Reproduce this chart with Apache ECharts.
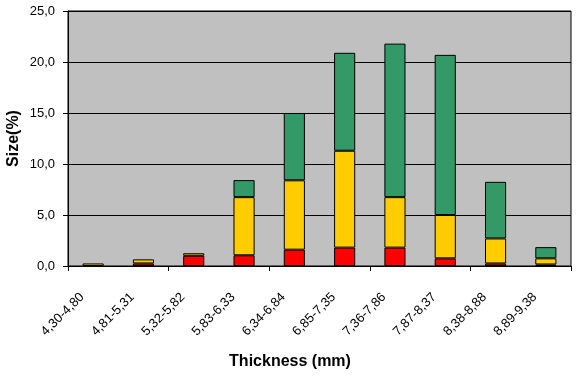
<!DOCTYPE html>
<html>
<head>
<meta charset="utf-8">
<script src="https://cdn.jsdelivr.net/npm/echarts@6/dist/echarts.min.js"></script>
<style>html,body{margin:0;padding:0;background:#fff;}#c{width:579px;height:381px;}</style>
</head>
<body>
<div id="c"></div>
<script>
const categories = ['4,30-4,80','4,81-5,31','5,32-5,82','5,83-6,33','6,34-6,84','6,85-7,35','7,36-7,86','7,87-8,37','8,38-8,88','8,89-9,38'];
const redValues    = [0.0, 0.25, 1.0, 1.05, 1.6, 1.8, 1.8, 0.75, 0.25, 0.15];
const yellowValues = [0.25, 0.4, 0.25, 5.7, 6.8, 9.5, 4.95, 4.25, 2.45, 0.6];
const greenValues  = [0.0, 0.0, 0.0, 1.67, 6.6, 9.6, 15.05, 15.7, 5.55, 1.1];
const yTicks = [0, 5, 10, 15, 20, 25];

const chart = echarts.init(document.getElementById('c'), null, {renderer: 'canvas'});
const font = '"Liberation Sans", Arial, sans-serif';
function mk(name, data, color) {
  return {
    name, type: 'bar', stack: 'total',
    xAxisIndex: 0, yAxisIndex: 0,
    data: data.map(v => v === 0 ? '-' : v),
    barWidth: '42%',
    itemStyle: {color, borderColor: '#000', borderWidth: 1},
    emphasis: {disabled: true}
  };
}
chart.setOption({
  animation: false,
  backgroundColor: '#fff',
  grid: [
    {left: 68, right: 8, top: 11, bottom: 115, containLabel: false, outerBoundsMode: 'none',
      show: true, backgroundColor: '#C0C0C0', borderColor: '#000', borderWidth: 1},
    // label-only grid, shifted left so the rotated category labels end left of each category centre
    {left: 57, right: 19, top: 11, bottom: 115, containLabel: false, outerBoundsMode: 'none', show: false}
  ],
  xAxis: [{
    type: 'category', data: categories, gridIndex: 0,
    name: 'Thickness (mm)', nameLocation: 'middle', nameGap: 88, nameMoveOverlap: false,
    nameTextStyle: {fontFamily: font, fontWeight: 'bold', fontSize: 16, color: '#000', padding: [0, 59, 0, 0]},
    axisLine: {lineStyle: {color: '#000', width: 1}},
    axisTick: {show: true, length: 5, lineStyle: {color: '#000'}},
    axisLabel: {show: false}
  }, {
    type: 'category', data: categories, gridIndex: 1,
    axisLine: {show: false}, axisTick: {show: false}, splitLine: {show: false},
    axisLabel: {rotate: 45, margin: 29, interval: 0, fontFamily: font, fontSize: 13, color: '#000'}
  }],
  yAxis: [{
    type: 'value', min: 0, max: 25, interval: 5, gridIndex: 0,
    name: 'Size(%)', nameLocation: 'middle', nameGap: 46, nameRotate: 90, nameMoveOverlap: false,
    nameTextStyle: {fontFamily: font, fontWeight: 'bold', fontSize: 16, color: '#000'},
    axisLine: {show: true, lineStyle: {color: '#000', width: 1}},
    axisTick: {show: true, length: 5, lineStyle: {color: '#000'}},
    axisLabel: {margin: 13, fontFamily: font, fontSize: 13, color: '#000',
      formatter: v => yTicks.includes(v) ? v.toFixed(1).replace('.', ',') : ''},
    splitLine: {show: true, lineStyle: {color: '#000', width: 1}}
  }, {
    type: 'value', min: 0, max: 25, interval: 5, gridIndex: 1, show: false
  }],
  series: [
    mk('red', redValues, '#FF0000'),
    mk('yellow', yellowValues, '#FFCC00'),
    mk('green', greenValues, '#339966')
  ]
});
</script>
</body>
</html>
